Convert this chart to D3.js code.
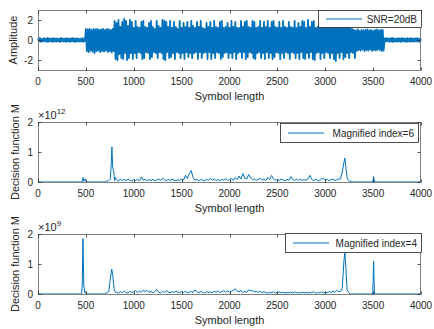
<!DOCTYPE html>
<html>
<head>
<meta charset="utf-8">
<script src="https://cdn.jsdelivr.net/npm/d3@7/dist/d3.min.js"></script>
<style>
  body { margin: 0; background: #fff; }
  text { font-family: "Liberation Sans", Arial, sans-serif; fill: #262626; }
</style>
</head>
<body>
<svg id="chart" width="434" height="329"></svg>
<script>
// x axis shared by all three panels
const xTicks = [0, 500, 1000, 1500, 2000, 2500, 3000, 3500, 4000];
const xMax = 4000;

// panel 1: received signal, envelope read every 20 symbols (upper / lower peaks)
const sigStep = 20;
const sigUpper = [
  0.15,0.2,0.12,0.18,0.14,0.2,0.16,0.13,0.19,0.15,0.17,0.12,0.2,0.15,0.14,0.18,0.13,0.16,0.2,0.14,0.17,0.15,0.12,0.18,0.16,
  1.1,1.05,1.1,1.0,1.1,1.05,1.1,1.0,1.05,1.1,1.0,1.1,1.05,1.0,1.1,
  1.9,1.7,2.0,1.3,1.8,2.1,1.9,1.4,2.0,1.8,
  1.2,1.9,1.3,1.2,1.8,1.9,1.3,1.2,1.7,1.9,
  1.3,1.1,1.9,1.4,1.2,2.0,1.9,1.8,1.3,1.9,
  1.2,1.8,1.3,1.1,1.9,1.2,1.7,1.3,1.8,1.2,
  1.9,1.4,1.2,1.8,1.3,1.9,1.2,1.1,1.7,1.3,
  1.8,1.2,1.9,1.3,1.2,1.8,1.9,1.2,1.3,1.7,
  1.2,1.9,1.3,1.8,1.2,1.2,1.9,1.3,1.8,1.9,
  1.3,1.2,1.9,1.8,1.2,1.3,1.9,1.2,1.8,1.3,
  1.9,1.2,1.8,1.9,1.3,1.2,1.8,1.2,1.9,1.3,
  1.2,1.8,1.3,1.2,1.9,1.2,1.7,1.3,1.9,1.8,
  1.2,2.0,1.3,1.8,1.9,1.2,1.3,1.8,1.2,1.9,
  1.3,1.2,1.9,1.2,1.8,1.3,1.2,1.7,1.2,1.3,
  1.8,1.2,1.7,1.2,1.1,
  1.0,0.95,1.05,0.9,1.0,0.95,1.0,1.05,0.95,1.0,0.9,1.0,1.05,0.95,1.0,1.0,
  0.15,0.2,0.14,0.18,0.22,0.16,0.13,0.19,0.15,0.2,0.17,0.14,0.18,0.15,0.2,0.13,0.16,0.18,0.14,0.15
];
const sigLower = [
  -0.14,-0.18,-0.15,-0.12,-0.2,-0.16,-0.13,-0.19,-0.15,-0.17,-0.14,-0.2,-0.13,-0.16,-0.18,-0.15,-0.19,-0.12,-0.16,-0.2,-0.14,-0.17,-0.15,-0.18,-0.13,
  -1.1,-1.2,-1.05,-1.15,-1.3,-1.1,-1.05,-1.2,-1.1,-1.15,-1.05,-1.2,-1.1,-1.25,-1.1,
  -1.9,-2.0,-1.4,-1.8,-1.9,-1.3,-2.0,-1.8,-1.3,-1.9,
  -1.3,-1.8,-1.2,-1.3,-1.9,-1.8,-1.2,-1.3,-1.9,-1.7,
  -1.2,-1.3,-1.8,-1.2,-1.3,-1.9,-2.0,-1.2,-1.8,-1.7,
  -1.3,-1.9,-1.2,-1.3,-1.8,-1.3,-1.9,-1.2,-1.7,-1.3,
  -1.8,-1.3,-1.2,-1.9,-1.2,-1.8,-1.3,-1.2,-1.9,-1.2,
  -1.9,-1.3,-1.8,-1.2,-1.3,-1.9,-1.7,-1.3,-1.2,-1.8,
  -1.3,-1.8,-1.2,-1.9,-1.3,-1.2,-1.8,-1.2,-1.9,-1.7,
  -1.2,-1.3,-1.8,-1.9,-1.3,-1.2,-1.8,-1.3,-1.9,-1.2,
  -1.8,-1.3,-1.9,-1.7,-1.2,-1.3,-1.9,-1.3,-1.8,-1.2,
  -1.3,-1.9,-1.2,-1.3,-1.8,-1.3,-1.9,-1.2,-1.8,-1.9,
  -1.3,-1.8,-1.2,-1.9,-2.0,-1.3,-1.2,-1.9,-1.3,-1.8,
  -1.2,-1.3,-1.8,-1.3,-1.9,-2.1,-1.3,-1.8,-1.2,-1.9,
  -1.7,-1.3,-1.8,-1.2,-1.3,
  -1.8,-1.1,-1.0,-1.05,-0.95,-1.1,-1.0,-1.05,-0.95,-1.1,-1.0,-1.05,-0.95,-1.0,-1.1,-1.05,
  -0.15,-0.13,-0.18,-0.16,-0.2,-0.14,-0.17,-0.15,-0.19,-0.13,-0.16,-0.2,-0.14,-0.18,-0.15,-0.17,-0.13,-0.16,-0.19,-0.15
];

// panels 2 and 3: decision function, dense part read every 20 symbols from 820 to 3140
const bumpStart = 820, bumpStep = 20;
const m6Bumps = [
  0.08,0.03,0.1,0.05,0.09,0.04,0.1,0.06,0.03,0.08,
  0.05,0.09,0.04,0.17,0.06,0.1,0.04,0.08,0.05,0.09,
  0.04,0.07,0.1,0.05,0.13,0.08,0.04,0.09,0.05,0.1,
  0.06,0.04,0.08,0.05,0.1,0.07,0.22,0.12,0.28,0.38,
  0.15,0.06,0.09,0.04,0.08,0.06,0.04,0.09,0.05,0.12,
  0.06,0.1,0.05,0.08,0.04,0.09,0.06,0.11,0.05,0.08,
  0.12,0.06,0.15,0.08,0.2,0.1,0.28,0.12,0.1,0.25,
  0.14,0.08,0.1,0.05,0.09,0.12,0.06,0.1,0.05,0.15,
  0.08,0.22,0.1,0.06,0.09,0.05,0.1,0.07,0.04,0.09,
  0.06,0.18,0.08,0.05,0.1,0.06,0.09,0.05,0.08,0.06,
  0.1,0.22,0.08,0.05,0.09,0.06,0.04,0.1,0.12,0.05,
  0.09,0.04,0.08,0.1,0.05,0.07,0.1
];
const m6Peaks = [
  [0,0],[460,0],[470,0.15],[480,0.02],[495,0.1],[505,0],[700,0],[720,0.03],[740,0.05],
  [755,0.1],[765,0.6],[772,1.17],[780,0.5],[790,0.35],[800,0.05],[810,0.15],
  [3160,0.1],[3175,0.3],[3195,0.65],[3205,0.8],[3215,0.5],[3228,0.15],[3242,0.05],[3260,0.02],[3280,0],
  [3495,0],[3505,0.18],[3515,0],[4000,0]
];
const m4Bumps = [
  0.06,0.03,0.08,0.04,0.1,0.05,0.03,0.09,0.05,0.07,
  0.12,0.05,0.1,0.06,0.13,0.08,0.12,0.05,0.09,0.04,
  0.08,0.15,0.06,0.04,0.09,0.05,0.12,0.06,0.04,0.08,
  0.05,0.1,0.06,0.04,0.08,0.05,0.09,0.04,0.06,0.08,
  0.05,0.14,0.07,0.04,0.09,0.05,0.03,0.08,0.05,0.07,
  0.04,0.09,0.06,0.1,0.05,0.08,0.11,0.06,0.1,0.07,
  0.09,0.12,0.18,0.1,0.07,0.12,0.05,0.09,0.06,0.14,
  0.1,0.12,0.07,0.09,0.05,0.1,0.04,0.08,0.05,0.03,
  0.06,0.04,0.08,0.03,0.05,0.07,0.04,0.06,0.03,0.05,
  0.04,0.06,0.03,0.07,0.04,0.05,0.03,0.06,0.04,0.05,
  0.03,0.06,0.04,0.08,0.03,0.05,0.04,0.07,0.03,0.06,
  0.04,0.08,0.05,0.1,0.06,0.12,0.08
];
const m4Peaks = [
  [0,0],[455,0],[462,0.3],[470,1.85],[478,0.3],[488,0.05],[495,0.08],[505,0],[700,0],[720,0.04],[740,0.08],
  [755,0.5],[770,0.83],[782,0.6],[795,0.15],[810,0.05],
  [3160,0.08],[3178,0.2],[3195,1.1],[3205,1.4],[3215,0.9],[3228,0.15],[3242,0.05],[3260,0],
  [3495,0],[3500,0.4],[3505,1.1],[3510,0.4],[3515,0],[4000,0]
];

const lineColor = '#0072BD';
const axisColor = '#262626';

const svg = d3.select('#chart');
const left = 38, right = 421, panelH = 60;

const x = d3.scaleLinear().domain([0, xMax]).range([left, right]);

function merge(peaks, bumps) {
  const pts = peaks.map(p => ({ s: p[0], v: p[1] }));
  bumps.forEach((v, i) => pts.push({ s: bumpStart + i * bumpStep, v: v }));
  return pts.sort((a, b) => a.s - b.s);
}

function drawPanel(opt) {
  const top = opt.top, bottom = top + panelH;
  const y = d3.scaleLinear().domain(opt.yDomain).range([bottom, top]);
  const g = svg.append('g');

  // data
  g.append('path')
    .datum(opt.points)
    .attr('fill', 'none')
    .attr('stroke', lineColor)
    .attr('stroke-width', opt.lineWidth || 1)
    .attr('stroke-linejoin', 'round')
    .attr('d', d3.line().x(d => x(d.s)).y(d => y(d.v)));

  // box
  g.append('rect')
    .attr('x', left + 0.5).attr('y', top + 0.5)
    .attr('width', right - left - 1).attr('height', panelH)
    .attr('fill', 'none').attr('stroke', '#7f7f7f').attr('stroke-width', 1);

  // x ticks, top and bottom, inward
  xTicks.forEach(t => {
    const xx = Math.round(x(t)) + 0.5;
    g.append('line').attr('x1', xx).attr('x2', xx).attr('y1', bottom + 0.5).attr('y2', bottom - 2.5)
      .attr('stroke', axisColor).attr('stroke-width', 0.8);
    g.append('line').attr('x1', xx).attr('x2', xx).attr('y1', top + 0.5).attr('y2', top + 3.5)
      .attr('stroke', axisColor).attr('stroke-width', 0.8);
    g.append('text').attr('x', x(t)).attr('y', bottom + 14.5)
      .attr('text-anchor', 'middle').attr('font-size', 10).text(t);
  });

  // y ticks, left and right
  opt.yTicks.forEach(t => {
    const yy = Math.round(y(t)) + 0.5;
    g.append('line').attr('x1', left + 0.5).attr('x2', left + 3.5).attr('y1', yy).attr('y2', yy)
      .attr('stroke', axisColor).attr('stroke-width', 0.8);
    g.append('line').attr('x1', right - 0.5).attr('x2', right - 3.5).attr('y1', yy).attr('y2', yy)
      .attr('stroke', axisColor).attr('stroke-width', 0.8);
    g.append('text').attr('x', left - 5).attr('y', y(t) + 3.5)
      .attr('text-anchor', 'end').attr('font-size', 10).text(opt.yFormat(t));
  });

  // axis labels
  g.append('text').attr('x', (left + right) / 2).attr('y', bottom + 30)
    .attr('text-anchor', 'middle').attr('font-size', 11).text('Symbol length');
  g.append('text')
    .attr('transform', `translate(${opt.yLabelX},${(top + bottom) / 2}) rotate(-90)`)
    .attr('text-anchor', 'middle').attr('font-size', 11).text(opt.yLabel);

  // exponent
  if (opt.exponent) {
    const ex = g.append('text').attr('x', left).attr('y', top - 3).attr('font-size', 11);
    ex.append('tspan').text('\u00d710');
    ex.append('tspan').attr('dy', -5).attr('font-size', 8).text(opt.exponent);
  }

  // legend
  const L = opt.legend;
  g.append('rect').attr('x', L.x + 0.5).attr('y', L.y + 0.5).attr('width', L.w).attr('height', L.h)
    .attr('fill', '#fff').attr('stroke', axisColor).attr('stroke-width', 0.8);
  g.append('line').attr('x1', L.x + 8).attr('x2', L.x + 44).attr('y1', L.y + L.h / 2 + 0.5).attr('y2', L.y + L.h / 2 + 0.5)
    .attr('stroke', lineColor).attr('stroke-width', 1);
  g.append('text').attr('x', L.x + L.w - 4).attr('y', L.y + L.h / 2 + 4)
    .attr('text-anchor', 'end').attr('font-size', 10).text(L.text);
}

// signal: zigzag between the read upper and lower peaks
const sigPoints = [];
sigUpper.forEach((u, i) => {
  sigPoints.push({ s: i * sigStep, v: u });
  if (i < sigUpper.length - 1) sigPoints.push({ s: i * sigStep + sigStep / 2, v: sigLower[i] });
});

drawPanel({
  top: 10, yDomain: [-3, 3], yTicks: [-2, 0, 2], yFormat: d => d,
  yLabel: 'Amplitude', yLabelX: 17, points: sigPoints, lineWidth: 1.8,
  legend: { x: 318, y: 10, w: 103, h: 17, text: 'SNR=20dB' }
});
drawPanel({
  top: 122, yDomain: [0, 2], yTicks: [0, 1, 2], yFormat: d => d,
  yLabel: 'Decision function M', yLabelX: 19, points: merge(m6Peaks, m6Bumps), exponent: '12',
  legend: { x: 280, y: 123, w: 138, h: 19, text: 'Magnified index=6' }
});
drawPanel({
  top: 234, yDomain: [0, 2], yTicks: [0, 1, 2], yFormat: d => d,
  yLabel: 'Decision function M', yLabelX: 19, points: merge(m4Peaks, m4Bumps), exponent: '9',
  legend: { x: 285, y: 233, w: 136, h: 19, text: 'Magnified index=4' }
});
</script>
</body>
</html>
